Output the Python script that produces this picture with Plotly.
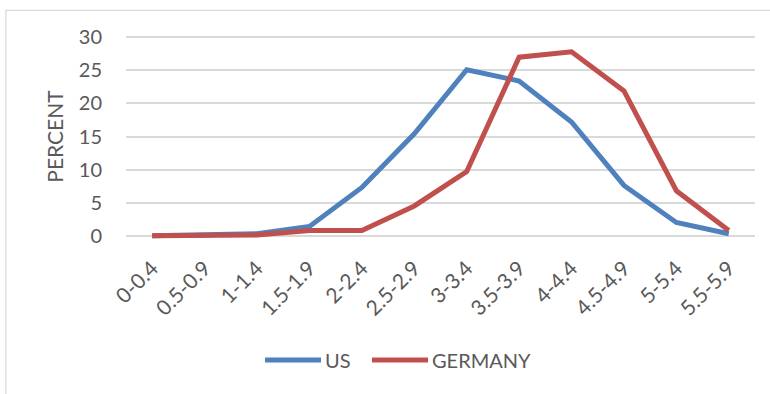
import plotly.graph_objects as go

categories = ["0-0.4", "0.5-0.9", "1-1.4", "1.5-1.9", "2-2.4", "2.5-2.9",
              "3-3.4", "3.5-3.9", "4-4.4", "4.5-4.9", "5-5.4", "5.5-5.9"]
us = [0.0, 0.1, 0.3, 1.4, 7.3, 15.4, 25.1, 23.4, 17.2, 7.6, 2.0, 0.3]
germany = [0.0, 0.0, 0.1, 0.8, 0.8, 4.5, 9.7, 27.0, 27.8, 21.9, 6.8, 0.8]
y_ticks = [0, 5, 10, 15, 20, 25, 30]

series = [("US", us, "#4F81BD"), ("GERMANY", germany, "#C0504D")]

TEXT = "#595959"
FONT = "Lato"
W, H = 770, 394
ML, MR, MT, MB = 126, 15, 34, 155
PW, PH = W - ML - MR, H - MT - MB


def px_to_paper(px, py):
    return (px - ML) / PW, (H - MB - py) / PH


fig = go.Figure()
for name, vals, color in series:
    fig.add_trace(go.Scatter(x=categories, y=vals, name=name, mode="lines",
                             line=dict(color=color, width=5), showlegend=False))

# legend drawn as line swatches + labels under the plot
shapes = [dict(type="rect", xref="paper", yref="paper",
               x0=-0.191, x1=1.2, y0=-1.2, y1=1.115,
               line=dict(color="#D9D9D9", width=1.2), fillcolor="rgba(0,0,0,0)",
               layer="below")]
annotations = []
legend_starts = [265, 372]
for (name, _, color), x_start in zip(series, legend_starts):
    x0, y0 = px_to_paper(x_start, 360)
    x1, _ = px_to_paper(x_start + 56, 360)
    shapes.append(dict(type="line", xref="paper", yref="paper",
                       x0=x0, x1=x1, y0=y0, y1=y0,
                       line=dict(color=color, width=5)))
    tx, ty = px_to_paper(x_start + 58, 360)
    annotations.append(dict(xref="paper", yref="paper", x=tx, y=ty,
                            xanchor="left", yanchor="middle", showarrow=False,
                            text=name, font=dict(size=20, color=TEXT, family=FONT)))

fig.update_layout(
    width=W, height=H,
    margin=dict(l=ML, r=MR, t=MT, b=MB),
    paper_bgcolor="white", plot_bgcolor="white",
    font=dict(family=FONT, color=TEXT, size=18),
    showlegend=False,
    xaxis=dict(type="category", range=[-0.5, 11.5], tickangle=-45,
               showgrid=False, zeroline=False, showline=False, ticks="",
               ticklabelstandoff=12,
               tickfont=dict(size=21, color=TEXT)),
    yaxis=dict(range=[-0.5, 30.5], tickvals=y_ticks, showgrid=True,
               gridcolor="#D9D9D9", gridwidth=1.5, zeroline=False, showline=False,
               ticks="", ticklabelstandoff=23,
               tickfont=dict(size=20, color=TEXT),
               title=dict(text="PERCENT", font=dict(size=21, color=TEXT), standoff=9)),
    shapes=shapes,
    annotations=annotations,
)

fig.write_html("out.html")
